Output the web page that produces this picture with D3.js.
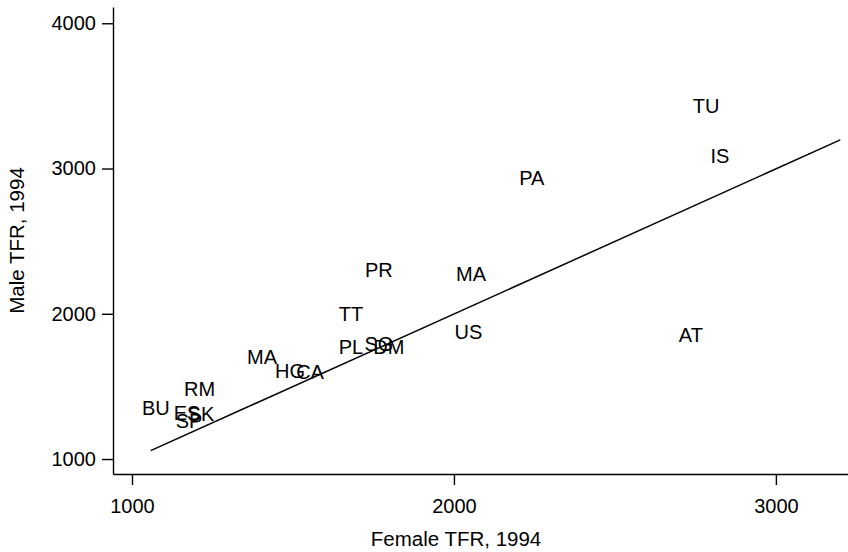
<!DOCTYPE html>
<html>
<head>
<meta charset="utf-8">
<script src="https://cdn.jsdelivr.net/npm/d3@7"></script>
<style>
  body { margin: 0; background: #fff; }
  svg text { font-family: "Liberation Sans", Arial, Helvetica, sans-serif; fill: #000; }
</style>
</head>
<body>
<script>
// country codes + male/female TFR (per 1000 women/men)
let codes  = ['TU','IS','PA','PR','MA','TT','US','AT','PL','SG','DM','MA','HG','CA','BU','RM','ES','SK','SP']
let female = [2783, 2826, 2242, 1767, 2053, 1680, 2045, 2736, 1680, 1767, 1798, 1404, 1491, 1553, 1074, 1210, 1171, 1214, 1177]
let male   = [3434, 3090, 2933, 2302, 2278, 1999, 1875, 1857, 1773, 1792, 1771, 1702, 1610, 1599, 1355, 1484, 1317, 1310, 1262]

// fitted line end points
let fitFemale = [1058, 3200]
let fitMale   = [1058, 3197]

let xTicks = [1000, 2000, 3000]
let yTicks = [1000, 2000, 3000, 4000]

let svgWidth = 848
let svgHeight = 552
let margin = {top: 7, right: 0, bottom: 78, left: 113}
let innerWidth = svgWidth - margin.left - margin.right
let innerHeight = svgHeight - margin.top - margin.bottom

let svg = d3.select('body').append('svg')
            .attr('width', svgWidth)
            .attr('height', svgHeight)

let inner = svg.append('g')
               .attr('transform', 'translate(' + margin.left + ',' + margin.top + ')')

let xScale = d3.scaleLinear().domain([941, 3224]).range([0, innerWidth])
let yScale = d3.scaleLinear().domain([897, 4112]).range([innerHeight, 0])

// axes
let xAxis = d3.axisBottom(xScale).tickValues(xTicks).tickFormat(d3.format('d'))
              .tickSizeInner(11).tickSizeOuter(0).tickPadding(14)
let yAxis = d3.axisLeft(yScale).tickValues(yTicks).tickFormat(d3.format('d'))
              .tickSizeInner(11).tickSizeOuter(0).tickPadding(6)

let gx = inner.append('g').attr('transform', 'translate(0,' + innerHeight + ')').call(xAxis)
let gy = inner.append('g').call(yAxis)

;[gx, gy].forEach(g => {
  g.selectAll('path, line').attr('stroke', '#000').attr('stroke-width', 1.4)
  g.selectAll('text').style('font-size', '20px').attr('fill', '#000')
})

// axis titles
inner.append('text')
     .attr('x', 456 - margin.left)
     .attr('y', 546 - margin.top)
     .attr('text-anchor', 'middle')
     .style('font-size', '20.5px')
     .text('Female TFR, 1994')

inner.append('text')
     .attr('transform', 'translate(' + (23.5 - margin.left) + ',' + (innerHeight / 2) + ') rotate(-90)')
     .attr('text-anchor', 'middle')
     .style('font-size', '20.5px')
     .text('Male TFR, 1994')

// fitted line
let fit = fitFemale.map((f, i) => [f, fitMale[i]])
inner.append('path')
     .datum(fit)
     .attr('d', d3.line().x(d => xScale(d[0])).y(d => yScale(d[1])))
     .attr('fill', 'none')
     .attr('stroke', '#000')
     .attr('stroke-width', 1.5)

// country labels, centred on their points
let points = codes.map((c, i) => ({code: c, f: female[i], m: male[i]}))
inner.selectAll('.country')
     .data(points)
     .join('text')
     .classed('country', true)
     .attr('x', d => xScale(d.f))
     .attr('y', d => yScale(d.m))
     .attr('dy', '0.36em')
     .attr('text-anchor', 'middle')
     .style('font-size', '20px')
     .text(d => d.code)
</script>
</body>
</html>
